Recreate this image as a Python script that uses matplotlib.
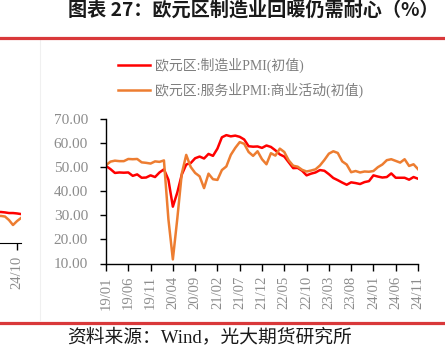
import matplotlib
matplotlib.use('Agg')
import matplotlib.pyplot as plt
import pandas as pd
from matplotlib.lines import Line2D
from matplotlib.ticker import FormatStrFormatter

# ---------------- data ----------------
months = pd.date_range('2019-01-01', '2024-11-01', freq='MS').strftime('%y/%m').tolist()

mfg_pmi = [50.5, 49.2, 47.6, 47.8, 47.7, 47.8, 46.4, 47.0, 45.6, 45.7, 46.6, 45.9,
           47.8, 49.1, 44.8, 33.6, 39.5, 46.9, 51.1, 51.7, 53.7, 54.4, 53.6, 55.5,
           54.7, 57.7, 62.4, 63.3, 62.8, 63.1, 62.6, 61.5, 58.7, 58.5, 58.6, 58.0,
           59.0, 58.4, 57.0, 55.3, 54.4, 52.0, 49.6, 49.7, 48.5, 46.6, 47.3, 47.8,
           48.8, 48.5, 47.1, 45.5, 44.6, 43.6, 42.7, 43.7, 43.4, 43.0, 43.8, 44.2,
           46.6, 46.1, 45.7, 45.9, 47.4, 45.6, 45.6, 45.6, 44.8, 45.9, 45.2]

svc_pmi = [50.8, 52.3, 52.7, 52.5, 52.5, 53.4, 53.3, 53.4, 52.0, 51.8, 51.5, 52.4,
           52.2, 52.8, 28.4, 11.7, 28.7, 47.3, 55.1, 50.1, 47.6, 46.2, 41.3, 47.3,
           45.0, 44.7, 48.8, 50.3, 55.1, 58.0, 60.4, 59.7, 56.3, 54.7, 56.6, 53.3,
           51.2, 55.8, 54.8, 57.7, 56.3, 52.8, 50.6, 50.2, 48.9, 48.2, 48.6, 49.1,
           50.7, 53.0, 55.6, 56.6, 55.9, 52.4, 51.1, 47.9, 48.4, 47.8, 48.2, 48.1,
           48.4, 50.0, 51.1, 52.9, 53.3, 52.6, 51.9, 53.3, 50.5, 51.2, 49.2]

series_names = ['欧元区:制造业PMI(初值)', '欧元区:服务业PMI:商业活动(初值)']
y_ticks = [10, 20, 30, 40, 50, 60, 70]

# fragment of the neighbouring chart visible at the left edge
frag_months = ['24/05', '24/06', '24/07', '24/08', '24/09', '24/10', '24/11']
frag_red = [25.0, 25.0, 24.8, 24.5, 24.5, 24.3, 24.0]
frag_orange = [23.0, 23.1, 22.8, 21.1, 18.7, 20.6, 22.1]

title = '图表 27：欧元区制造业回暖仍需耐心（%）'
source = '资料来源：Wind，光大期货研究所'

# ---------------- style ----------------
W, H = 445, 350
RED = '#ff0000'
ORANGE = '#ed7d31'
GRAY = '#8c8c8c'
SERIF = ['Liberation Serif', 'Noto Sans CJK SC']

fig = plt.figure(figsize=(W / 100, H / 100), dpi=100)

def fx(px):
    return px / W

def fy(py):
    return 1 - py / H

# main axes
L, R, T, B = 106, 418, 119, 263.5
ax = fig.add_axes([fx(L), fy(B), fx(R - L), (B - T) / H])
x = list(range(len(months)))
l1, = ax.plot(x, mfg_pmi, color=RED, lw=1.8, solid_joinstyle='round')
l2, = ax.plot(x, svc_pmi, color=ORANGE, lw=1.8, solid_joinstyle='round')
ax.set_xlim(0, len(months) - 1)
ax.set_ylim(10, 70)
ax.set_yticks(y_ticks)
ax.yaxis.set_major_formatter(FormatStrFormatter('%.2f'))
tick_idx = list(range(0, len(months), 5))
ax.set_xticks(tick_idx)
ax.set_xticklabels([months[i] for i in tick_idx], rotation=90)
for s in ['top', 'right']:
    ax.spines[s].set_visible(False)
for s in ['left', 'bottom']:
    ax.spines[s].set_color('black')
    ax.spines[s].set_linewidth(1.0)
ax.tick_params(axis='y', direction='out', length=4, width=1, color='black',
               labelcolor=GRAY, labelsize=11, pad=9)
ax.tick_params(axis='x', direction='out', length=5, width=1, color='black',
               labelcolor=GRAY, labelsize=10.5, pad=4)
for lab in ax.get_xticklabels() + ax.get_yticklabels():
    lab.set_family(SERIF)

# fragment axes (neighbouring chart, cut off by the left edge)
fr_right = 21
fr_px_per_month = 4
n_fr = len(frag_months)
fr_left = fr_right - fr_px_per_month * (n_fr + 4)
fax = fig.add_axes([fx(fr_left), fy(243), fx(fr_right - fr_left), (243 - 119) / H])
fx_idx = list(range(n_fr))
fax.plot(fx_idx, frag_red, color=RED, lw=1.8)
fax.plot(fx_idx, frag_orange, color=ORANGE, lw=1.8)
fax.set_xlim(n_fr - 1 - (n_fr + 4), n_fr - 1)
fax.set_ylim(10, 70)
fax.set_yticks([])
fax.set_xticks([0, 5])
fax.set_xticklabels([frag_months[0], frag_months[5]], rotation=90)
for s in ['top', 'right', 'left']:
    fax.spines[s].set_visible(False)
fax.spines['bottom'].set_color('black')
fax.tick_params(axis='x', direction='out', length=5, width=1, color='black',
                labelcolor=GRAY, labelsize=10.5, pad=4)
for lab in fax.get_xticklabels():
    lab.set_family(SERIF)

# faint separator
fig.add_artist(Line2D([fx(40), fx(40)], [fy(40), fy(320)], transform=fig.transFigure,
                      color='#f0f0f0', lw=0.8))

# legend
fig.legend([l1, l2], series_names, loc='upper left',
           bbox_to_anchor=(fx(118), fy(58)), frameon=False,
           handlelength=2.3, handletextpad=0.35, labelspacing=0.72,
           borderpad=0, borderaxespad=0,
           prop={'family': SERIF, 'size': 10}, labelcolor='#7f7f7f')

# title / rules / source
fig.text(fx(68), fy(11), title, ha='left', va='center', fontsize=13.8,
         family=['Noto Sans CJK SC'], weight='bold', color='#1a1a1a')
fig.add_artist(Line2D([0, 1], [fy(37.5), fy(37.5)], transform=fig.transFigure,
                      color='#d9383a', lw=2.3))
fig.add_artist(Line2D([0, 1], [fy(323), fy(323)], transform=fig.transFigure,
                      color='#d9383a', lw=2.3))
fig.text(fx(210), fy(337), source, ha='center', va='center', fontsize=13.5,
         family=SERIF, color='#1a1a1a')

fig.savefig('out.png', dpi=100)
